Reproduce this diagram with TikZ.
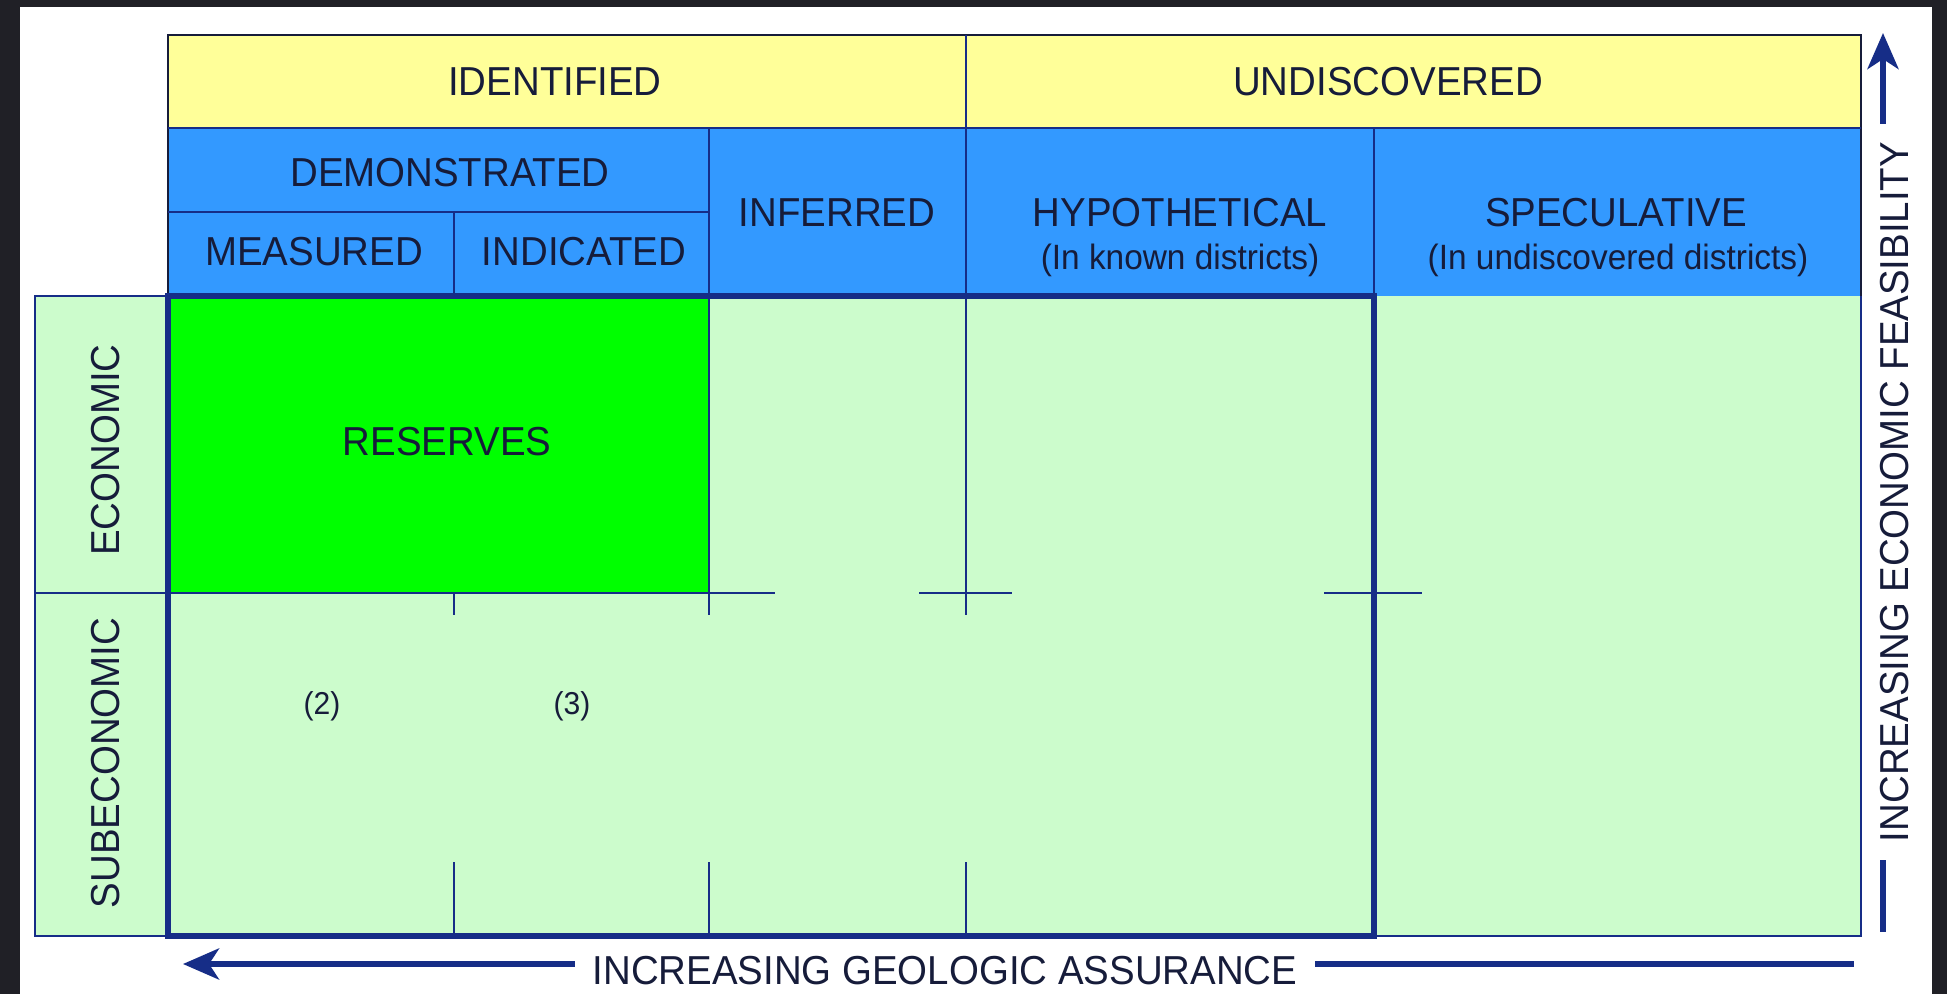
\documentclass[tikz,border=0pt]{standalone}
\usepackage{fontspec}
\setmainfont{Liberation Sans}[FakeStretch=0.95]
\usepackage{tikz}
\usetikzlibrary{arrows.meta, positioning}
\definecolor{navy}{RGB}{22,45,135}
\definecolor{ink}{RGB}{22,28,58}
\definecolor{hdyellow}{RGB}{255,255,153}
\definecolor{hdblue}{RGB}{51,153,255}
\definecolor{resgreen}{RGB}{0,255,0}
\definecolor{palegreen}{RGB}{204,252,204}
\definecolor{darkframe}{RGB}{32,32,38}

\begin{document}
\begin{tikzpicture}[x=0.01cm, y=-0.01cm,
		lbl/.style={font=\fontsize{11.5}{13}\selectfont, text=ink, inner sep=0pt},
		sub/.style={font=\fontsize{10}{12}\selectfont, text=ink, inner sep=0pt},
		num/.style={font=\fontsize{9}{11}\selectfont, text=ink, inner sep=0pt},
		thin/.style={navy, line width=0.7pt},
		bold/.style={navy, line width=1.5pt},
		axis/.style={navy, line width=1.7pt}]
	% frame and panel
	\fill[darkframe] (0,0) rectangle (1947,994);
	\fill[white] (20,7) rectangle (1932,994);
	% cells
	\fill[hdyellow] (168,35) rectangle (1861,128);
	\fill[hdblue] (168,128) rectangle (1861,296);
	\fill[palegreen] (35,296) rectangle (1861,936);
	\fill[resgreen] (168,296) rectangle (709,593);
	% header lines
	\draw[ink, line width=0.8pt] (168,296) -- (168,35) -- (1861,35) -- (1861,296);
	\draw[thin] (168,128) -- (1861,128);
	\draw[thin] (966,35) -- (966,296);
	\draw[thin] (168,212) -- (709,212);
	\draw[thin] (454,212) -- (454,296);
	\draw[thin] (709,128) -- (709,296);
	\draw[thin] (1374,128) -- (1374,296);
	% body lines
	\draw[thin] (35,296) rectangle (168,936);
	\draw[thin] (1374,936) -- (1861,936) -- (1861,296);
	\draw[bold] (168,296) rectangle (1374,936);
	\draw[thin] (35,593) -- (775,593);
	\draw[thin] (919,593) -- (1012,593);
	\draw[thin] (1324,593) -- (1422,593);
	\draw[thin] (709,296) -- (709,615);
	\draw[thin] (966,296) -- (966,615);
	\draw[thin] (454,593) -- (454,615);
	\draw[thin] (454,862) -- (454,936);
	\draw[thin] (709,862) -- (709,936);
	\draw[thin] (966,862) -- (966,936);
	% texts
	\node[lbl] (hd_ident) at (555,82) {IDENTIFIED};
	\node[lbl] (hd_undisc) at (1388,82) {UNDISCOVERED};
	\node[lbl] (hd_demo) at (450,173) {DEMONSTRATED};
	\node[lbl] (hd_meas) at (314,252) {MEASURED};
	\node[lbl] (hd_indic) at (584,252) {INDICATED};
	\node[lbl] (hd_infer) at (837,213) {INFERRED};
	\node[lbl] (hd_hypo) at (1180,213) {HYPOTHETICAL};
	\node[sub] (hd_hypo2) at (1180,260) {(In known districts)};
	\node[lbl] (hd_spec) at (1616,213) {SPECULATIVE};
	\node[sub] (hd_spec2) at (1618,260) {(In undiscovered districts)};
	\node[lbl] (reserves) at (447,442) {RESERVES};
	\node[lbl, rotate=90] (row_econ) at (106,450) {ECONOMIC};
	\node[lbl, rotate=90] (row_sub) at (106,763) {SUBECONOMIC};
	\node[num] (n_2) at (322,706) {(2)};
	\node[num] (n_3) at (572,706) {(3)};
	% axes
	\node[lbl, rotate=90, outer sep=0.18cm] (feas) at (1895,492) {INCREASING ECONOMIC FEASIBILITY};
	\coordinate (feas_top) at (1883,33);
	\coordinate (feas_bot) at (1883,932);
	\draw[axis, -{Stealth[length=0.36cm, width=0.31cm, inset=0.1cm]}] (feas_top |- feas.east) -- (feas_top);
	\draw[axis] (feas_bot |- feas.west) -- (feas_bot);
	\node[lbl, outer sep=0.18cm] (geo) at (945,971) {INCREASING GEOLOGIC ASSURANCE};
	\coordinate (geo_tip) at (183,964);
	\coordinate (geo_end) at (1854,964);
	\draw[axis, -{Stealth[length=0.36cm, width=0.31cm, inset=0.1cm]}] (geo.west |- geo_tip) -- (geo_tip);
	\draw[axis] (geo.east |- geo_end) -- (geo_end);
\end{tikzpicture}
\end{document}
